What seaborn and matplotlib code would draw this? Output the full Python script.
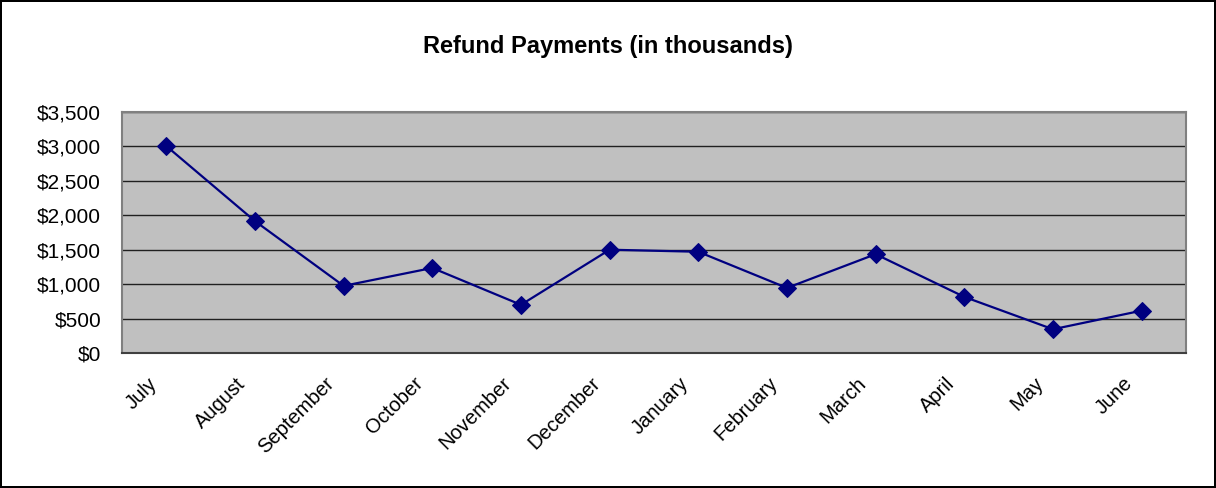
import pandas as pd
import matplotlib.pyplot as plt
import matplotlib.ticker as mticker
import matplotlib.transforms as mtrans
import seaborn as sns

# Data
months = ['July', 'August', 'September', 'October', 'November', 'December',
          'January', 'February', 'March', 'April', 'May', 'June']
refunds = [3005, 1915, 975, 1235, 700, 1500, 1470, 945, 1435, 815, 345, 615]

data = pd.DataFrame({'Month': months, 'Refunds': refunds})

sns.set_style('white')
plt.rcParams['font.family'] = ['Liberation Sans', 'DejaVu Sans']
plt.rcParams['text.color'] = 'black'
plt.rcParams['xtick.color'] = 'black'
plt.rcParams['ytick.color'] = 'black'

fig = plt.figure(figsize=(12.16, 4.88), dpi=100, edgecolor='black', linewidth=1.5)
ax = fig.add_axes([0.1003, 0.2766, 0.875, 0.494])

sns.lineplot(x='Month', y='Refunds', data=data, ax=ax, color='#000080',
             linewidth=1.6, marker='D', markersize=9, markeredgecolor='#000080',
             sort=False)

ax.set_facecolor('#C0C0C0')
ax.set_xlim(-0.5, len(months) - 0.5)
ax.set_ylim(0, 3500)
ax.set_yticks(range(0, 3501, 500))
ax.yaxis.set_major_formatter(mticker.FuncFormatter(lambda v, p: f'${v:,.0f}'))
ax.grid(axis='y', color='#202020', linewidth=1)
ax.set_axisbelow(True)
ax.set_xlabel('')
ax.set_ylabel('')

for s in ax.spines.values():
    s.set_color('#808080')
    s.set_linewidth(1.5)
ax.spines['bottom'].set_color('#404040')

ax.tick_params(axis='y', labelsize=15, length=0, pad=15)
ax.tick_params(axis='x', labelsize=14.5, length=0, pad=15)
shift = mtrans.ScaledTranslation(-19 / 100, 0, fig.dpi_scale_trans)
for lab in ax.get_xticklabels():
    lab.set_rotation(45)
    lab.set_ha('right')
    lab.set_rotation_mode('anchor')
    lab.set_transform(lab.get_transform() + shift)

fig.text(0.5, 0.905, 'Refund Payments (in thousands)', ha='center', va='center',
         fontsize=17, fontweight='bold')

fig.savefig('out.png', dpi=100)
